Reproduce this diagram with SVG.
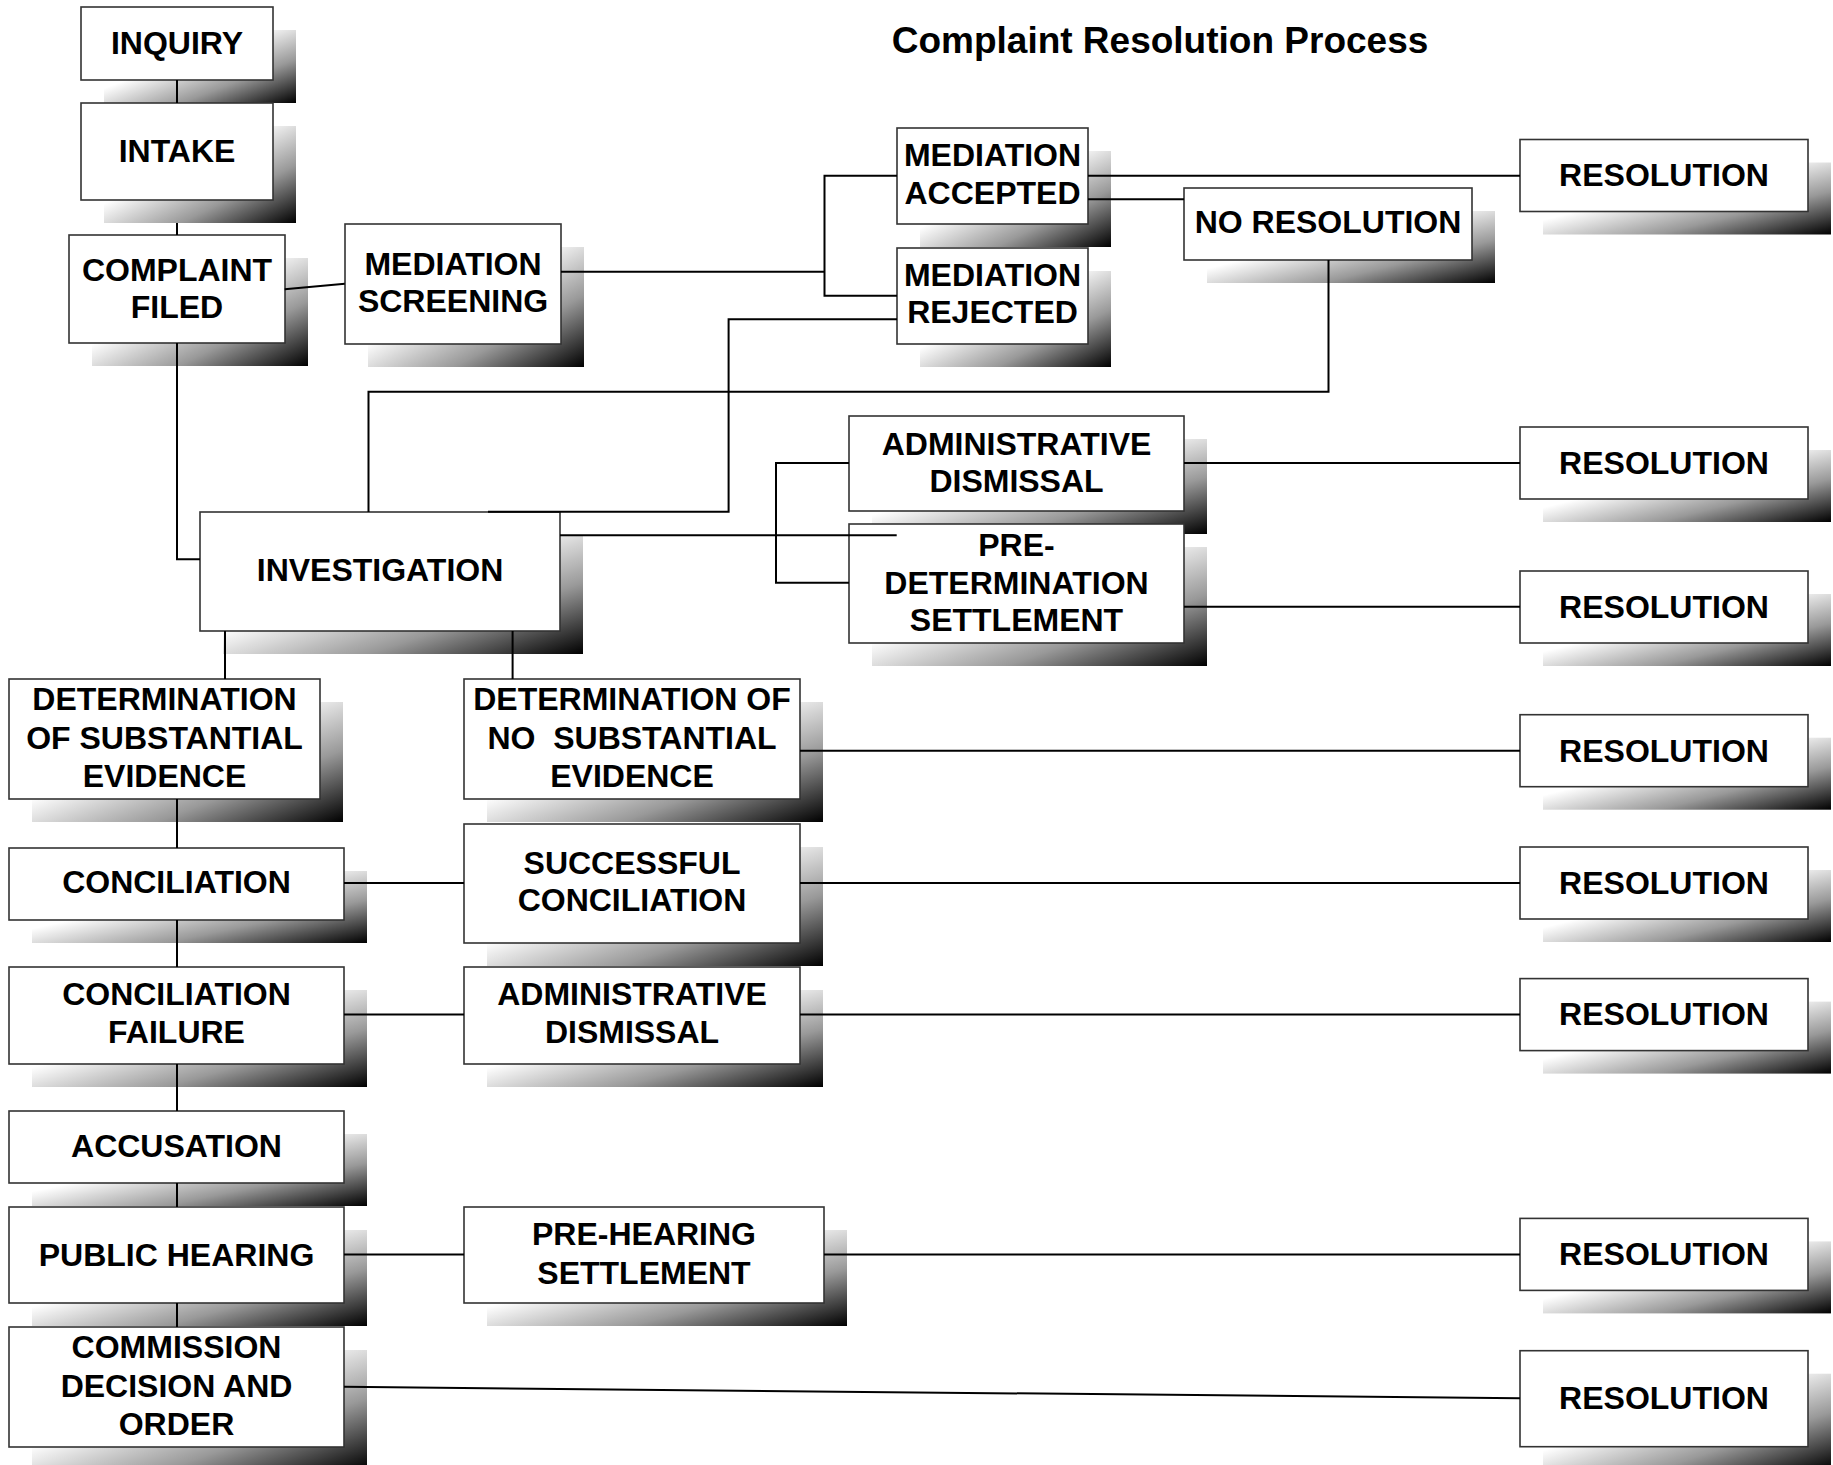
<svg xmlns="http://www.w3.org/2000/svg" width="1833" height="1465" viewBox="0 0 1833 1465">
<style>
.box{fill:#fff;stroke:#333;stroke-width:1.6}
.sh{fill:url(#shg)}
.t{font-family:"Liberation Sans",Arial,sans-serif;font-weight:bold;font-size:32px;fill:#000;text-anchor:middle}
.title{font-family:"Liberation Sans",Arial,sans-serif;font-weight:bold;font-size:37px;fill:#000;text-anchor:middle}
.c{fill:none;stroke:#000;stroke-width:2}
</style>
<defs>
<linearGradient id="shg" x1="0" y1="0" x2="1" y2="1">
<stop offset="0.4" stop-color="#fff"/>
<stop offset="0.7" stop-color="#999"/>
<stop offset="1" stop-color="#000"/>
</linearGradient>
</defs>
<rect width="1833" height="1465" fill="#fff"/>
<text class="title" x="1160" y="53">Complaint Resolution Process</text>

<g id="n-inquiry"><rect class="sh" x="104" y="30" width="192" height="73"/><rect class="box" x="81" y="7" width="192" height="73"/><text class="t" x="177" y="53.5">INQUIRY</text></g>
<g id="n-intake"><rect class="sh" x="104" y="126" width="192" height="97"/><rect class="box" x="81" y="103" width="192" height="97"/><text class="t" x="177" y="162">INTAKE</text></g>
<g id="n-complaint"><rect class="sh" x="92" y="258" width="216" height="108"/><rect class="box" x="69" y="235" width="216" height="108"/><text class="t" x="177" y="280.5">COMPLAINT</text><text class="t" x="177" y="318">FILED</text></g>
<g id="n-screening"><rect class="sh" x="368" y="247" width="216" height="120"/><rect class="box" x="345" y="224" width="216" height="120"/><text class="t" x="453" y="274.5">MEDIATION</text><text class="t" x="453" y="312">SCREENING</text></g>
<g id="n-accepted"><rect class="sh" x="920" y="151" width="191" height="96"/><rect class="box" x="897" y="128" width="191" height="96"/><text class="t" x="992.5" y="166">MEDIATION</text><text class="t" x="992.5" y="203.5">ACCEPTED</text></g>
<g id="n-rejected"><rect class="sh" x="920" y="271" width="191" height="96"/><rect class="box" x="897" y="248" width="191" height="96"/><text class="t" x="992.5" y="285.5">MEDIATION</text><text class="t" x="992.5" y="323">REJECTED</text></g>
<g id="n-nores"><rect class="sh" x="1207" y="211" width="288" height="72"/><rect class="box" x="1184" y="188" width="288" height="72"/><text class="t" x="1328" y="233">NO RESOLUTION</text></g>
<g id="n-admin1"><rect class="sh" x="872" y="439" width="335" height="95"/><rect class="box" x="849" y="416" width="335" height="95"/><text class="t" x="1016.5" y="454.5">ADMINISTRATIVE</text><text class="t" x="1016.5" y="492">DISMISSAL</text></g>
<g id="n-predet"><rect class="sh" x="872" y="547" width="335" height="119"/><rect class="box" x="849" y="524" width="335" height="119"/><text class="t" x="1016.5" y="556">PRE-</text><text class="t" x="1016.5" y="593.5">DETERMINATION</text><text class="t" x="1016.5" y="631">SETTLEMENT</text></g>
<g id="n-investigation"><rect class="sh" x="223" y="535" width="360" height="119"/><rect class="box" x="200" y="512" width="360" height="119"/><text class="t" x="380" y="581">INVESTIGATION</text></g>
<g id="n-detsub"><rect class="sh" x="32" y="702" width="311" height="120"/><rect class="box" x="9" y="679" width="311" height="120"/><text class="t" x="164.5" y="710">DETERMINATION</text><text class="t" x="164.5" y="748.5">OF SUBSTANTIAL</text><text class="t" x="164.5" y="786.5">EVIDENCE</text></g>
<g id="n-detnosub"><rect class="sh" x="487" y="702" width="336" height="120"/><rect class="box" x="464" y="679" width="336" height="120"/><text class="t" x="632" y="710">DETERMINATION OF</text><text class="t" x="632" y="748.5">NO&#160; SUBSTANTIAL</text><text class="t" x="632" y="786.5">EVIDENCE</text></g>
<g id="n-conciliation"><rect class="sh" x="32" y="871" width="335" height="72"/><rect class="box" x="9" y="848" width="335" height="72"/><text class="t" x="176.5" y="893">CONCILIATION</text></g>
<g id="n-successful"><rect class="sh" x="487" y="847" width="336" height="119"/><rect class="box" x="464" y="824" width="336" height="119"/><text class="t" x="632" y="873.5">SUCCESSFUL</text><text class="t" x="632" y="911">CONCILIATION</text></g>
<g id="n-failure"><rect class="sh" x="32" y="990" width="335" height="97"/><rect class="box" x="9" y="967" width="335" height="97"/><text class="t" x="176.5" y="1005">CONCILIATION</text><text class="t" x="176.5" y="1043">FAILURE</text></g>
<g id="n-admin2"><rect class="sh" x="487" y="990" width="336" height="97"/><rect class="box" x="464" y="967" width="336" height="97"/><text class="t" x="632" y="1005">ADMINISTRATIVE</text><text class="t" x="632" y="1043">DISMISSAL</text></g>
<g id="n-accusation"><rect class="sh" x="32" y="1134" width="335" height="72"/><rect class="box" x="9" y="1111" width="335" height="72"/><text class="t" x="176.5" y="1157">ACCUSATION</text></g>
<g id="n-hearing"><rect class="sh" x="32" y="1230" width="335" height="96"/><rect class="box" x="9" y="1207" width="335" height="96"/><text class="t" x="176.5" y="1265.5">PUBLIC HEARING</text></g>
<g id="n-prehearing"><rect class="sh" x="487" y="1230" width="360" height="96"/><rect class="box" x="464" y="1207" width="360" height="96"/><text class="t" x="644" y="1244.5">PRE-HEARING</text><text class="t" x="644" y="1283.5">SETTLEMENT</text></g>
<g id="n-commission"><rect class="sh" x="32" y="1350" width="335" height="120"/><rect class="box" x="9" y="1327" width="335" height="120"/><text class="t" x="176.5" y="1358">COMMISSION</text><text class="t" x="176.5" y="1397">DECISION AND</text><text class="t" x="176.5" y="1435">ORDER</text></g>

<g id="n-res1"><rect class="sh" x="1543" y="162.5" width="288" height="72"/><rect class="box" x="1520" y="139.5" width="288" height="72"/><text class="t" x="1664" y="186">RESOLUTION</text></g>
<g id="n-res2"><rect class="sh" x="1543" y="450" width="288" height="72"/><rect class="box" x="1520" y="427" width="288" height="72"/><text class="t" x="1664" y="473.5">RESOLUTION</text></g>
<g id="n-res3"><rect class="sh" x="1543" y="594" width="288" height="72"/><rect class="box" x="1520" y="571" width="288" height="72"/><text class="t" x="1664" y="617.5">RESOLUTION</text></g>
<g id="n-res4"><rect class="sh" x="1543" y="737.7" width="288" height="72"/><rect class="box" x="1520" y="714.7" width="288" height="72"/><text class="t" x="1664" y="761.5">RESOLUTION</text></g>
<g id="n-res5"><rect class="sh" x="1543" y="870" width="288" height="72"/><rect class="box" x="1520" y="847" width="288" height="72"/><text class="t" x="1664" y="893.5">RESOLUTION</text></g>
<g id="n-res6"><rect class="sh" x="1543" y="1001.6" width="288" height="72"/><rect class="box" x="1520" y="978.6" width="288" height="72"/><text class="t" x="1664" y="1025">RESOLUTION</text></g>
<g id="n-res7"><rect class="sh" x="1543" y="1241.4" width="288" height="72"/><rect class="box" x="1520" y="1218.4" width="288" height="72"/><text class="t" x="1664" y="1265">RESOLUTION</text></g>
<g id="n-res8"><rect class="sh" x="1543" y="1373.7" width="288" height="96"/><rect class="box" x="1520" y="1350.7" width="288" height="96"/><text class="t" x="1664" y="1408.5">RESOLUTION</text></g>

<g id="connectors" class="c">
<path d="M177 80V103"/>
<path d="M177 223V235"/>
<path d="M284.7 289.3L344.8 283.7"/>
<path d="M177 343V559.3H200"/>
<path d="M561 271.7H824.5"/>
<path d="M897 175.7H824.5V295.7H897"/>
<path d="M1088 175.7H1520"/>
<path d="M1088 199.3H1184"/>
<path d="M1328.5 260V391.7H368.5V512"/>
<path d="M897 319.3H728.6V511.7H488"/>
<path d="M560 535.3H896.7"/>
<path d="M849 463H776V582.7H849"/>
<path d="M1184 463H1520"/>
<path d="M1184 606.7H1520"/>
<path d="M225 631V679"/>
<path d="M512.6 631V679"/>
<path d="M800 750.7H1520"/>
<path d="M177 799V848"/>
<path d="M344 883H464"/>
<path d="M800 883H1520"/>
<path d="M177 920V967"/>
<path d="M344 1014.6H464"/>
<path d="M800 1014.6H1520"/>
<path d="M177 1064V1111"/>
<path d="M177 1183V1207"/>
<path d="M344 1254.4H464"/>
<path d="M824 1254.4H1520"/>
<path d="M177 1303V1327"/>
<path d="M344 1386.8L1520 1398.3"/>
</g>
</svg>
